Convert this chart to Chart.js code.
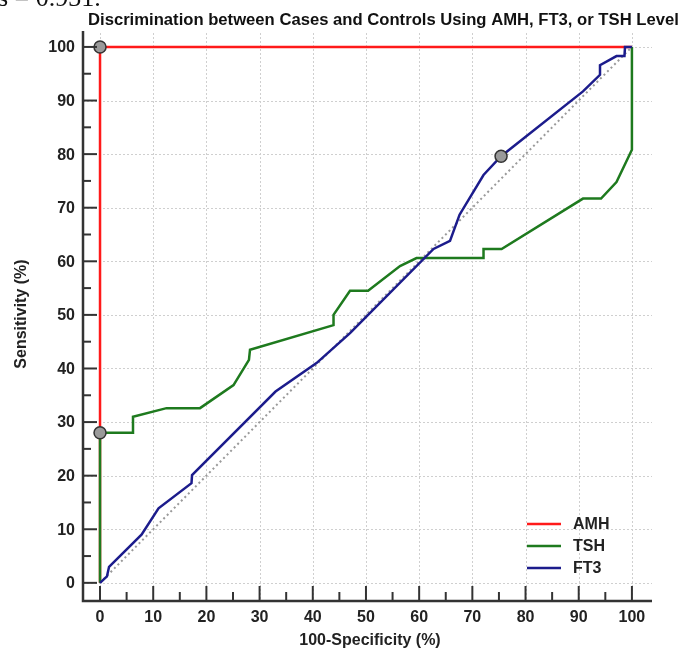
<!DOCTYPE html>
<html>
<head>
<meta charset="utf-8">
<script src="https://cdn.jsdelivr.net/npm/chart.js@4/dist/chart.umd.min.js"></script>
<style>
  html, body { margin: 0; padding: 0; background: #fff; }
  #wrap { width: 685px; height: 654px; position: relative; }
</style>
</head>
<body>
<div id="wrap"><canvas id="rocChart"></canvas></div>
<script>
// ROC curves, values (x = 100-Specificity, y = Sensitivity)
var amhX = [0, 0, 100];
var amhY = [0, 100, 100];

var tshX = [0, 0, 6.2, 6.2, 12.5, 18.8, 25.1, 28.0, 28.2, 43.9, 43.9, 47.0, 50.4, 56.4, 59.5, 72.1, 72.1, 75.5, 90.8, 94.2, 97.1, 100, 100];
var tshY = [0, 28.0, 28.0, 31.0, 32.6, 32.6, 36.9, 41.6, 43.5, 48.1, 50.0, 54.5, 54.5, 59.1, 60.6, 60.6, 62.3, 62.3, 71.7, 71.7, 74.8, 80.8, 100];

var ft3X = [0, 1.3, 1.7, 7.8, 11.0, 17.2, 17.3, 33.0, 40.7, 47.0, 62.7, 65.8, 67.6, 72.1, 75.4, 90.8, 94.0, 94.0, 97.1, 98.6, 98.7, 100];
var ft3Y = [0, 1.2, 3.0, 9.0, 13.9, 18.6, 20.1, 35.7, 41.0, 46.6, 62.3, 63.8, 68.7, 76.1, 79.6, 91.7, 94.8, 96.6, 98.3, 98.3, 100, 100];

// optimal criterion markers
var markerX = [0, 0, 75.4];
var markerY = [100, 28.0, 79.6];

var refX = [0, 100];
var refY = [0, 100];

var xTicks = [0, 10, 20, 30, 40, 50, 60, 70, 80, 90, 100];
var yTicks = [0, 10, 20, 30, 40, 50, 60, 70, 80, 90, 100];

var seriesNames = ["AMH", "TSH", "FT3"];
var seriesColors = ["#ff1a1a", "#1e7a1e", "#1c1c8c"];

function toPoints(xs, ys) {
  return xs.map(function (x, i) { return { x: x, y: ys[i] }; });
}

var FONT = "'Liberation Sans', Arial, sans-serif";

// grid, axes, ticks, labels and legend drawn with the chart scales
var axesPlugin = {
  id: "axesPlugin",
  beforeDatasetsDraw: function (chart) {
    var ctx = chart.ctx, a = chart.chartArea;
    var xs = chart.scales.x, ys = chart.scales.y;
    ctx.save();
    ctx.strokeStyle = "#cfcfcf";
    ctx.lineWidth = 1;
    ctx.setLineDash([2, 2]);
    xTicks.forEach(function (v) {
      var p = Math.round(xs.getPixelForValue(v)) + 0.5;
      ctx.beginPath(); ctx.moveTo(p, a.top); ctx.lineTo(p, a.bottom); ctx.stroke();
    });
    yTicks.forEach(function (v) {
      var p = Math.round(ys.getPixelForValue(v)) + 0.5;
      ctx.beginPath(); ctx.moveTo(a.left, p); ctx.lineTo(a.right + 2, p); ctx.stroke();
    });
    ctx.restore();
  },
  afterDatasetsDraw: function (chart) {
    var ctx = chart.ctx, a = chart.chartArea;
    var xs = chart.scales.x, ys = chart.scales.y;
    ctx.save();
    ctx.strokeStyle = "#333";
    ctx.lineWidth = 2.5;
    // axis lines
    ctx.beginPath();
    ctx.moveTo(a.left, a.top - 2);
    ctx.lineTo(a.left, a.bottom + 1);
    ctx.lineTo(a.right + 2, a.bottom + 1);
    ctx.stroke();
    // ticks, pointing inward
    ctx.lineWidth = 2;
    for (var v = 0; v <= 100; v += 5) {
      var len = v % 10 === 0 ? 14 : 8;
      var px = xs.getPixelForValue(v);
      ctx.beginPath(); ctx.moveTo(px, a.bottom); ctx.lineTo(px, a.bottom - len); ctx.stroke();
      var py = ys.getPixelForValue(v);
      ctx.beginPath(); ctx.moveTo(a.left, py); ctx.lineTo(a.left + len, py); ctx.stroke();
    }
    // tick labels
    ctx.fillStyle = "#222";
    ctx.font = "bold 16px " + FONT;
    ctx.textAlign = "right";
    ctx.textBaseline = "middle";
    yTicks.forEach(function (v) {
      ctx.fillText(String(v), a.left - 8, ys.getPixelForValue(v) + 1);
    });
    ctx.textAlign = "center";
    ctx.textBaseline = "top";
    xTicks.forEach(function (v) {
      ctx.fillText(String(v), xs.getPixelForValue(v), a.bottom + 10);
    });
    // axis titles
    ctx.font = "bold 16px " + FONT;
    ctx.textBaseline = "alphabetic";
    ctx.fillText("100-Specificity (%)", 370, 645);
    ctx.save();
    ctx.translate(26, 314);
    ctx.rotate(-Math.PI / 2);
    ctx.fillText("Sensitivity (%)", 0, 0);
    ctx.restore();
    // title (slightly wide lettering)
    ctx.save();
    ctx.textAlign = "left";
    ctx.font = "bold 16px " + FONT;
    ctx.fillStyle = "#111";
    ctx.translate(88, 25);
    ctx.scale(1.04, 1);
    ctx.fillText("Discrimination between Cases and Controls Using AMH, FT3, or TSH Level", 0, 0);
    ctx.restore();
    // clipped text from the page above
    ctx.textAlign = "left";
    ctx.fillStyle = "#111";
    ctx.font = "26px 'Liberation Serif', 'DejaVu Serif', serif";
    ctx.fillText("s = 0.931.", -2, 6);
    // legend
    var rows = [524, 546, 568];
    ctx.font = "bold 16px " + FONT;
    ctx.textBaseline = "middle";
    seriesNames.forEach(function (name, i) {
      ctx.strokeStyle = seriesColors[i];
      ctx.lineWidth = 2.5;
      ctx.beginPath(); ctx.moveTo(527, rows[i]); ctx.lineTo(561, rows[i]); ctx.stroke();
      ctx.fillStyle = "#222";
      ctx.fillText(name, 573, rows[i] + 1);
    });
    ctx.restore();
  }
};

new Chart(document.getElementById("rocChart").getContext("2d"), {
  type: "scatter",
  data: {
    datasets: [
      {
        label: "reference",
        data: toPoints(refX, refY),
        showLine: true,
        borderColor: "#9a9a9a",
        borderWidth: 2,
        borderDash: [2, 3],
        pointRadius: 0,
        order: 5,
      },
      {
        label: seriesNames[0],
        data: toPoints(amhX, amhY),
        showLine: true,
        borderColor: seriesColors[0],
        borderWidth: 2.5,
        pointRadius: 0,
        order: 4,
      },
      {
        label: seriesNames[1],
        data: toPoints(tshX, tshY),
        showLine: true,
        borderColor: seriesColors[1],
        borderWidth: 2.5,
        pointRadius: 0,
        order: 3,
      },
      {
        label: seriesNames[2],
        data: toPoints(ft3X, ft3Y),
        showLine: true,
        borderColor: seriesColors[2],
        borderWidth: 2.5,
        pointRadius: 0,
        order: 2,
      },
      {
        label: "criterion",
        data: toPoints(markerX, markerY),
        showLine: false,
        pointRadius: 6,
        pointBackgroundColor: "#9a9a9a",
        pointBorderColor: "#333",
        pointBorderWidth: 1.5,
        order: 1,
      },
    ],
  },
  options: {
    responsive: true,
    maintainAspectRatio: false,
    animation: false,
    layout: { padding: { left: 83, right: 35, top: 33, bottom: 54 } },
    plugins: { legend: { display: false }, tooltip: { enabled: false } },
    scales: {
      x: { type: "linear", min: -3.2, max: 103.4, display: false },
      y: { type: "linear", min: -3.2, max: 102.6, display: false },
    },
  },
  plugins: [axesPlugin],
});
</script>
</body>
</html>
